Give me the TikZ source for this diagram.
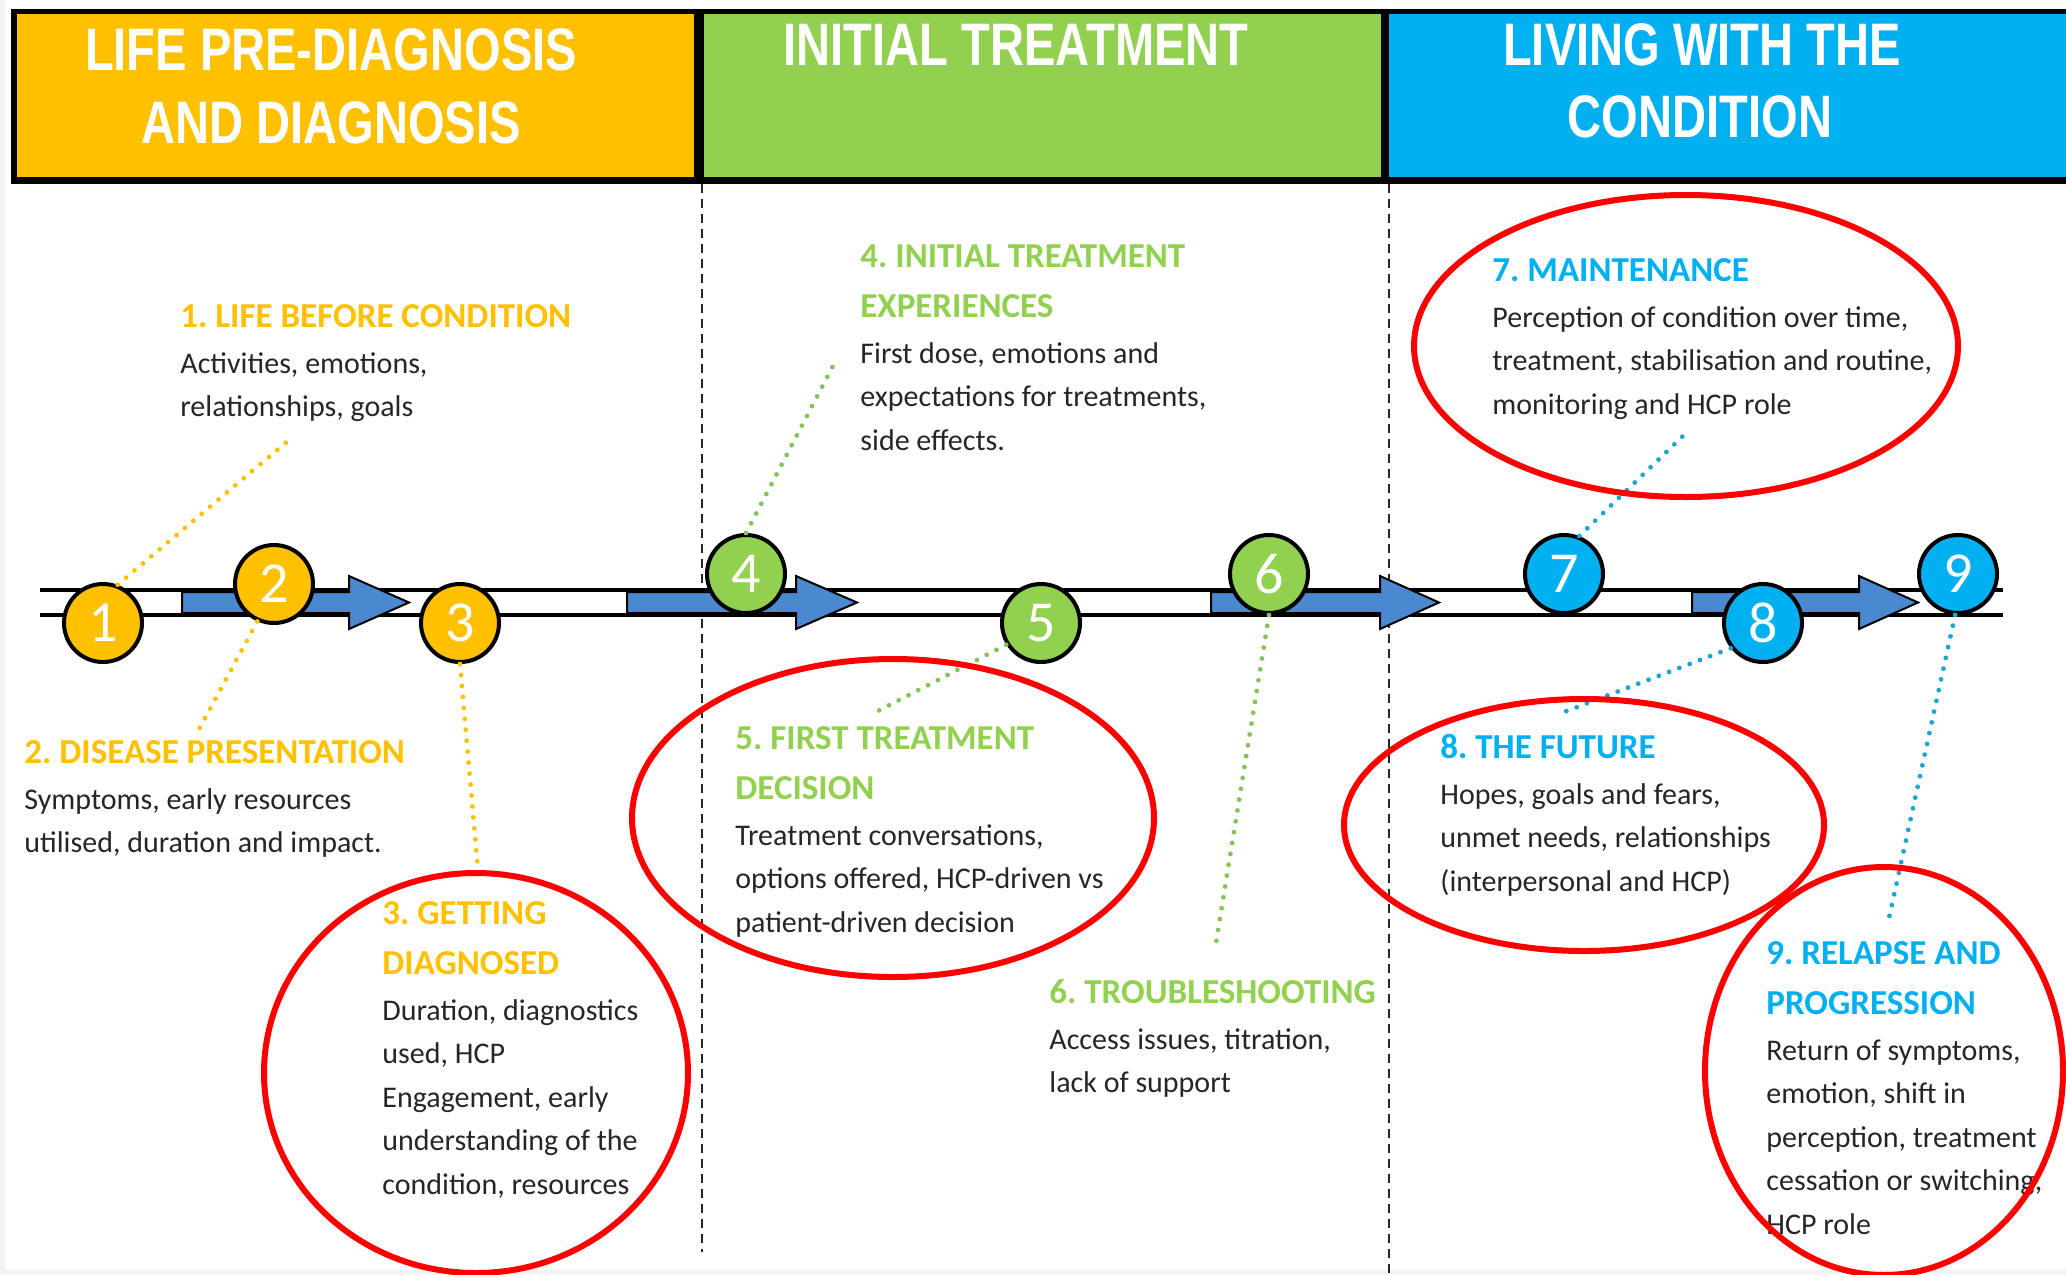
\documentclass[tikz,border=0pt]{standalone}
\usepackage{fontspec}
\setmainfont{Carlito}
\newfontfamily\hdrfont{Liberation Sans}[FakeStretch=0.785]
\definecolor{cyel}{HTML}{FFC000}
\definecolor{cgrn}{HTML}{92D050}
\definecolor{cblu}{HTML}{00B0F0}
\definecolor{cbar}{HTML}{4A88CF}
\definecolor{cring}{HTML}{FF0000}
\definecolor{ctext}{HTML}{262626}
\definecolor{dotg}{HTML}{86C25A}
\definecolor{dotb}{HTML}{1AA6D2}

% one stage: name, x, first title baseline, colour, title lines, body lines
\newcommand\stage[6]{%
  \foreach \tline [count=\k] in {#5}{%
    \node[stitle,text=#4] (#1-t\k) at (#2,{#3+50*(\k-1)}) {\tline};
    \xdef\lastk{\k}}
  \pgfmathsetmacro\stby{#3+50*(\lastk-1)+46}
  \foreach \tline [count=\k] in {#6}{%
    \node[sbody] (#1-b\k) at (#2,{\stby+43.5*(\k-1)}) {\tline};}
}
% block arrow lying between the two rails: start, head base, tip
\newcommand\railarrow[3]{%
  \filldraw[barfill] (#1,592) -- (#2,592) -- (#2,576) -- (#3,602.5)
    -- (#2,629) -- (#2,613) -- (#1,613) -- cycle;}

\begin{document}
\frenchspacing
\begin{tikzpicture}[x=0.5pt,y=-0.5pt,
  hdr/.style={font=\hdrfont\bfseries\fontsize{30}{30}\selectfont,text=white,anchor=base,inner sep=0},
  stitle/.style={font=\bfseries\fontsize{17.5}{20}\selectfont,anchor=base west,inner sep=0},
  sbody/.style={font=\fontsize{15}{18}\selectfont,text=ctext,anchor=base west,inner sep=0},
  stn/.style={circle,draw=black,line width=2pt,minimum size=39pt,inner sep=0,
    text=white,font=\fontsize{29}{29}\selectfont},
  rail/.style={draw=black,line width=2pt},
  barfill/.style={fill=cbar,draw=black,line width=1pt,line join=miter},
  divider/.style={draw=black!85,line width=1.2pt,dash pattern=on 4.5pt off 3pt},
  leader/.style={draw=#1,line width=2.4pt,line cap=round,dash pattern=on 0pt off 5.5pt},
  ring/.style={draw=cring,line width=3pt}]

\useasboundingbox (0,0) rectangle (2066,1274);
\fill[white] (0,0) rectangle (2066,1274);
\fill[black!5] (0,0) rectangle (5,1274);
\fill[black!5] (0,1270) rectangle (2066,1274);

% phase header band
\fill[black] (11,9) rectangle (2066,184);
\fill[cyel] (17,14) rectangle (694,177);
\fill[cgrn] (704,14) rectangle (1381,177);
\fill[cblu] (1389,14) rectangle (2066,177);
\node[hdr] (h1a) at (331,70) {LIFE PRE-DIAGNOSIS};
\node[hdr] (h1b) at (331,143) {AND DIAGNOSIS};
\node[hdr] (h2a) at (1016,65) {INITIAL TREATMENT};
\node[hdr] (h3a) at (1702,65) {LIVING WITH THE};
\node[hdr] (h3b) at (1700,137) {CONDITION};

% phase dividers
\coordinate (v1t) at (702,184); \coordinate (v1b) at (702,1252);
\coordinate (v2t) at (1389,184); \coordinate (v2b) at (1389,1274);
\draw[divider] (v1t) -- (v1b);
\draw[divider] (v2t) -- (v2b);

% timeline rails and progress arrows
\coordinate (r1a) at (40,590); \coordinate (r1b) at (2003,590);
\coordinate (r2a) at (40,615); \coordinate (r2b) at (2003,615);
\draw[rail] (r1a) -- (r1b);
\draw[rail] (r2a) -- (r2b);
\railarrow{182}{349}{409}
\railarrow{627}{796}{857}
\railarrow{1211}{1380}{1439}
\railarrow{1692}{1859}{1918}

% numbered milestones
\node[stn,fill=cyel] (n1) at (103,623) {1};
\node[stn,fill=cyel] (n2) at (274,584) {2};
\node[stn,fill=cyel] (n3) at (460,623) {3};
\node[stn,fill=cgrn] (n4) at (746,574) {4};
\node[stn,fill=cgrn] (n5) at (1041,623) {5};
\node[stn,fill=cgrn] (n6) at (1269,574) {6};
\node[stn,fill=cblu] (n7) at (1564,574) {7};
\node[stn,fill=cblu] (n8) at (1763,623) {8};
\node[stn,fill=cblu] (n9) at (1958,574) {9};

% dotted leaders to the descriptions
\coordinate (d1) at (289,440);
\coordinate (d2) at (198,731);
\coordinate (d3) at (478,870);
\coordinate (d4) at (834,364);
\coordinate (d5) at (876,712);
\coordinate (d6) at (1215,949);
\coordinate (d7) at (1684,435);
\coordinate (d8) at (1559,714);
\coordinate (d9) at (1889,918);
\draw[leader=cyel] (n1.69) -- (d1);
\draw[leader=cyel] (n2.246) -- (d2);
\draw[leader=cyel] (n3.270) -- (d3);
\draw[leader=dotg] (n4.90) -- (d4);
\draw[leader=dotg] (n5.212) -- (d5);
\draw[leader=dotg] (n6.270) -- (d6);
\draw[leader=dotb] (n7.68) -- (d7);
\draw[leader=dotb] (n8.218) -- (d8);
\draw[leader=dotb] (n9.266) -- (d9);

% stage descriptions
\stage{s1}{180}{327}{cyel}{1. LIFE BEFORE CONDITION}
  {{Activities, emotions,},{relationships, goals}}
\stage{s2}{24}{763}{cyel}{2. DISEASE PRESENTATION}
  {{Symptoms, early resources},{utilised, duration and impact.}}
\stage{s3}{382}{924}{cyel}{{3. GETTING},{DIAGNOSED}}
  {{Duration, diagnostics},{used, HCP},{Engagement, early},{understanding of the},{condition, resources}}
\stage{s4}{860}{267}{cgrn}{{4. INITIAL TREATMENT},{EXPERIENCES}}
  {{First dose, emotions and},{expectations for treatments,},{side effects.}}
\stage{s5}{735}{749}{cgrn}{{5. FIRST TREATMENT},{DECISION}}
  {{Treatment conversations,},{options offered, HCP-driven vs},{patient-driven decision}}
\stage{s6}{1049}{1003}{cgrn}{6. TROUBLESHOOTING}
  {{Access issues, titration,},{lack of support}}
\stage{s7}{1492}{281}{cblu}{7. MAINTENANCE}
  {{Perception of condition over time,},{treatment, stabilisation and routine,},{monitoring and HCP role}}
\stage{s8}{1440}{758}{cblu}{8. THE FUTURE}
  {{Hopes, goals and fears,},{unmet needs, relationships},{(interpersonal and HCP)}}
\stage{s9}{1766}{964}{cblu}{{9. RELAPSE AND},{PROGRESSION}}
  {{Return of symptoms,},{emotion, shift in},{perception, treatment},{cessation or switching,},{HCP role}}

% highlighted stages
\coordinate (e3) at (476,1073);
\coordinate (e5) at (893,818);
\coordinate (e7) at (1686,346);
\coordinate (e8) at (1584,825);
\coordinate (e9) at (1884,1071);
\draw[ring] (e3) ellipse [x radius=106pt,y radius=100pt];
\draw[ring] (e5) ellipse [x radius=130.5pt,y radius=79.5pt];
\draw[ring] (e7) ellipse [x radius=136pt,y radius=75.5pt];
\draw[ring] (e8) ellipse [x radius=120pt,y radius=63pt];
\draw[ring] (e9) ellipse [x radius=89.5pt,y radius=102pt];
\end{tikzpicture}
\end{document}
